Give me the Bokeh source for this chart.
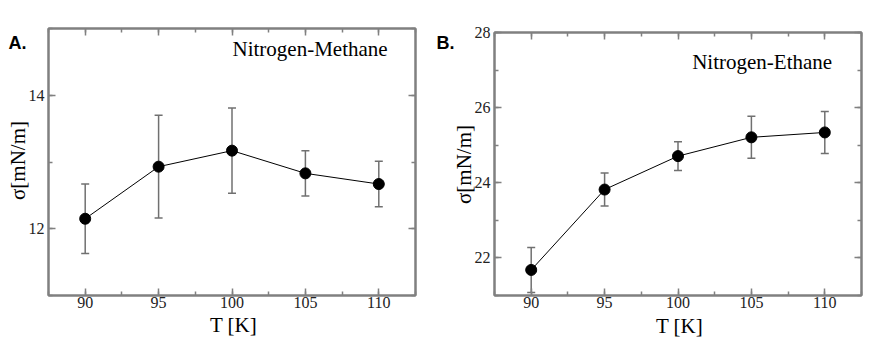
from bokeh.plotting import figure
from bokeh.layouts import row, column
from bokeh.models import Label, LinearAxis, SingleIntervalTicker, Range1d, CustomJSTickFormatter, Spacer
from bokeh.embed import file_html
from bokeh.resources import INLINE
import math

# ---- data ----
T = [90, 95, 100, 105, 110]
sigma_methane = [12.15, 12.93, 13.17, 12.83, 12.67]
err_methane = [0.52, 0.77, 0.64, 0.34, 0.34]
sigma_ethane = [21.68, 23.82, 24.71, 25.21, 25.34]
err_ethane = [0.60, 0.44, 0.38, 0.56, 0.56]

panel_letters = ["A.", "B."]
panel_titles = ["Nitrogen-Methane", "Nitrogen-Ethane"]
x_label = "T [K]"
y_label = "σ[mN/m]"

SERIF = "Liberation Serif"
FRAME = "#808080"


def style_axis(ax, ticker, labels=True):
    ax.ticker = ticker
    ax.axis_line_color = FRAME
    ax.axis_line_width = 2
    ax.major_tick_line_color = FRAME
    ax.minor_tick_line_color = FRAME
    ax.major_tick_line_width = 1.5
    ax.minor_tick_line_width = 1.5
    ax.major_tick_in = 7
    ax.major_tick_out = 0
    ax.minor_tick_in = 4
    ax.minor_tick_out = 0
    if labels:
        ax.major_label_text_font = SERIF
        ax.major_label_text_font_style = "normal"
        ax.major_label_text_font_size = "16px"
        ax.major_label_text_color = "#222222"
    else:
        ax.formatter = CustomJSTickFormatter(code="return ''")
        ax.major_label_text_font_size = "1px"
        ax.major_label_standoff = 0
        ax.axis_label_standoff = 0


def make_panel(vals, errs, yr, ystep, height, borders, letter, title, title_pos, lab):
    left, right, top, bottom = borders
    p = figure(width=436, height=height, output_backend="svg", toolbar_location=None,
               x_range=Range1d(87.5, 112.5), y_range=Range1d(*yr),
               min_border_left=left, min_border_right=right,
               min_border_top=top, min_border_bottom=bottom)
    p.grid.visible = False
    p.outline_line_color = FRAME
    p.outline_line_width = 2

    style_axis(p.xaxis[0], SingleIntervalTicker(interval=5, num_minor_ticks=2))
    style_axis(p.yaxis[0], SingleIntervalTicker(interval=ystep, num_minor_ticks=2))
    p.xaxis[0].major_label_standoff = 1
    p.yaxis[0].major_label_standoff = 4

    top_ax = LinearAxis()
    style_axis(top_ax, SingleIntervalTicker(interval=5, num_minor_ticks=2), labels=False)
    p.add_layout(top_ax, "above")
    right_ax = LinearAxis()
    style_axis(right_ax, SingleIntervalTicker(interval=ystep, num_minor_ticks=2), labels=False)
    p.add_layout(right_ax, "right")

    upper = [v + e for v, e in zip(vals, errs)]
    lower = [v - e for v, e in zip(vals, errs)]

    p.line(T, vals, line_color="black", line_width=1)
    p.segment(x0=T, y0=lower, x1=T, y1=upper, line_color="#707070", line_width=1.5)
    p.scatter(T, upper, marker="dash", size=8, line_color="#707070", line_width=1.5)
    p.scatter(T, lower, marker="dash", size=8, line_color="#707070", line_width=1.5)
    p.scatter(T, vals, marker="circle", size=11, fill_color="black", line_color="black")

    p.add_layout(Label(x=title_pos[0], y=title_pos[1], text=title, text_font=SERIF,
                       text_font_size="21px", text_align="right", text_baseline="middle",
                       text_color="#000000"))
    # texts outside the frame, in canvas pixels
    p.add_layout(Label(x=lab["letter"][0], y=lab["letter"][1], x_units="canvas", y_units="canvas",
                       text=letter, text_font="Liberation Sans", text_font_style="bold",
                       text_font_size="18px", text_baseline="middle", text_color="#000000"),
                 lab["letter_side"])
    p.add_layout(Label(x=lab["ylab"][0], y=lab["ylab"][1], x_units="canvas", y_units="canvas",
                       text=y_label, text_font=SERIF, text_font_size="21px",
                       text_align="center", text_baseline="alphabetic", angle=math.pi / 2,
                       text_color="#000000"), "left")
    p.add_layout(Label(x=lab["xlab"][0], y=lab["xlab"][1], x_units="canvas", y_units="canvas",
                       text=x_label, text_font=SERIF, text_font_size="21px",
                       text_align="center", text_baseline="alphabetic",
                       text_color="#000000"), "below")
    return p


pA = make_panel(sigma_methane, err_methane, (11, 15), 2, 358, (48, 21, 28, 63),
                panel_letters[0], panel_titles[0], (110.6, 14.70),
                {"letter": (8, 42), "letter_side": "right", "ylab": (17, 160), "xlab": (233, 324)})
# panel B sits 4px lower (its frame starts lower in the original)
pB = make_panel(sigma_ethane, err_ethane, (21, 28), 2, 354, (58, 11, 28, 63),
                panel_letters[1], panel_titles[1], (110.5, 27.21),
                {"letter": (0, 38), "letter_side": "above", "ylab": (27, 160), "xlab": (243, 321)})

layout = row(pA, column(Spacer(width=436, height=4), pB, spacing=0), spacing=0)
open("out.html", "w").write(file_html(layout, INLINE))
